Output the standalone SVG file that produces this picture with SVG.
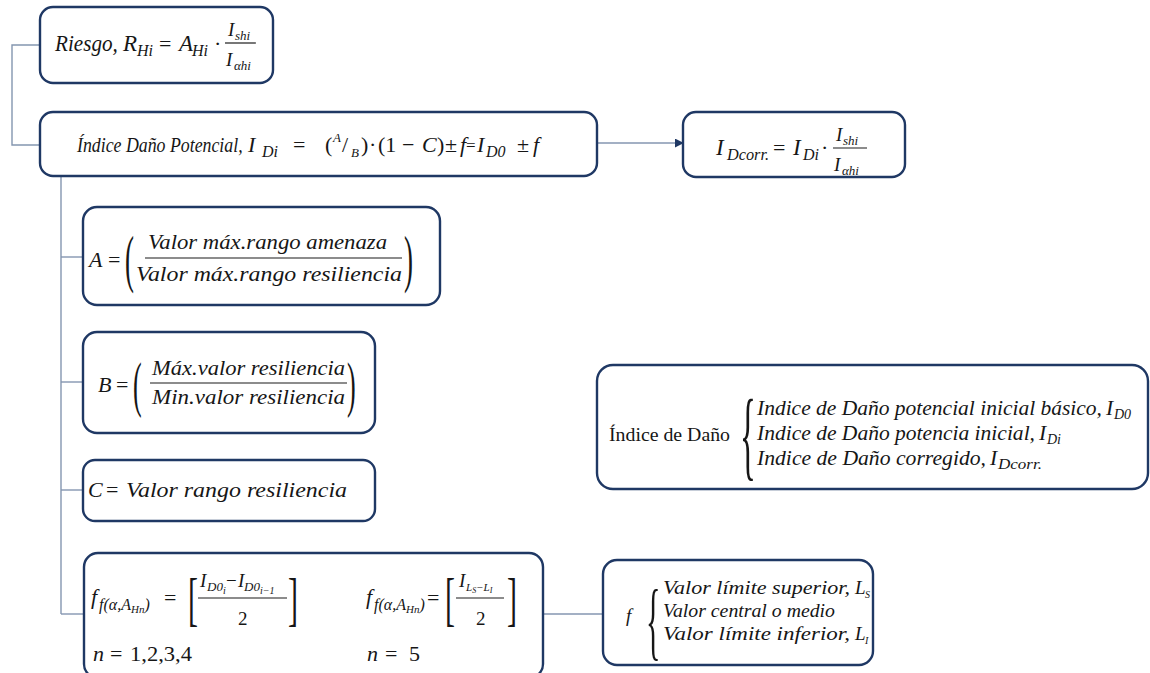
<svg xmlns="http://www.w3.org/2000/svg" width="1150" height="673" viewBox="0 0 1150 673">
  <style>
    .box { fill: #ffffff; stroke: #1f3864; stroke-width: 2.4; }
    .link { fill: none; stroke: #8496b0; stroke-width: 1.4; }
    .bar { stroke: #1b1b1b; stroke-width: 1.2; }
    text { font-family: "Liberation Serif", "DejaVu Serif", serif; fill: #161616; }
    .i { font-style: italic; }
    .m { font-size: 22px; }
    .n { font-size: 19px; }
    .s { font-size: 16px; }
    .ss { font-size: 13px; }
    .xs { font-size: 10px; }
    .big { font-size: 21.5px; }
  </style>
  <defs>
    <marker id="arrow" viewBox="0 0 10 10" refX="9" refY="5" markerWidth="9" markerHeight="9" orient="auto" markerUnits="userSpaceOnUse">
      <path d="M0,0 L10,5 L0,10 z" fill="#1f3864"/>
    </marker>
  </defs>

  <rect width="1150" height="673" fill="#ffffff"/>

  <!-- connectors -->
  <g id="connectors">
    <path class="link" d="M40,45 H12 V145 H40"/>
    <path class="link" d="M597,143 H683" marker-end="url(#arrow)"/>
    <path class="link" d="M61,176 V614"/>
    <path class="link" d="M61,257 H83"/>
    <path class="link" d="M61,382 H83"/>
    <path class="link" d="M61,490 H83"/>
    <path class="link" d="M61,614 H84"/>
    <path class="link" d="M543,614 H603"/>
  </g>

  <!-- risk -->
  <g id="riesgo">
    <rect class="box" x="40" y="7" width="233" height="76" rx="13"/>
    <text class="i m" transform="translate(55,51) scale(0.92,1)" style="font-size:23px">Riesgo,</text>
    <text class="i m" x="123" y="51" style="font-size:23px">R</text>
    <text class="i s" x="137" y="56">Hi</text>
    <text class="m" x="159" y="51">=</text>
    <text class="i m" x="179" y="51" style="font-size:23px">A</text>
    <text class="i s" x="192" y="56">Hi</text>
    <text class="m" x="214" y="51">·</text>
    <text class="i n" x="228" y="36">I</text>
    <text class="i ss" x="235" y="40">shi</text>
    <line class="bar" x1="225" y1="43" x2="256" y2="43"/>
    <text class="i n" x="226" y="66">I</text>
    <text class="i ss" x="234" y="70">αhi</text>
  </g>

  <!-- potential damage index -->
  <g id="indice-dano-potencial">
    <rect class="box" x="40" y="112" width="557" height="64" rx="13"/>
    <text class="i m" transform="translate(77,152) scale(0.81,1)">Índice Daño Potencial,</text>
    <text class="i m" x="248" y="152">I</text>
    <text class="i s" x="262" y="157">Di</text>
    <text class="m" x="293" y="152">=</text>
    <text class="m" x="325" y="152">(</text>
    <text class="i ss" x="333" y="142">A</text>
    <text class="m" x="342" y="152">/</text>
    <text class="i ss" x="351" y="157">B</text>
    <text class="m" x="361" y="152">)</text>
    <text class="m" x="369" y="152">·</text>
    <text class="m" x="378" y="152">(1</text>
    <text class="m" x="402" y="152">−</text>
    <text class="i m" x="422" y="152">C</text>
    <text class="m" x="437" y="152">)</text>
    <text class="m" x="445" y="152">±</text>
    <text class="i m" x="460" y="152">f</text>
    <text class="m" x="466" y="151" style="font-size:17px">=</text>
    <text class="i m" x="477" y="152">I</text>
    <text class="i s" x="486" y="157">D0</text>
    <text class="m" x="517" y="152">±</text>
    <text class="i m" x="533" y="152">f</text>
  </g>

  <!-- corrected index -->
  <g id="indice-corregido">
    <rect class="box" x="683" y="112" width="222" height="65" rx="13"/>
    <text class="i m" x="716" y="155" style="font-size:23px">I</text>
    <text class="i s" x="727" y="160" textLength="42" lengthAdjust="spacingAndGlyphs">Dcorr.</text>
    <text class="m" x="773" y="155">=</text>
    <text class="i m" x="793" y="155" style="font-size:23px">I</text>
    <text class="i s" x="803" y="160">Di</text>
    <text class="m" x="821" y="155">·</text>
    <text class="i n" x="836" y="141">I</text>
    <text class="i ss" x="843" y="145">shi</text>
    <line class="bar" x1="833" y1="148" x2="867" y2="148"/>
    <text class="i n" x="834" y="171">I</text>
    <text class="i ss" x="842" y="175">αhi</text>
  </g>

  <!-- term A -->
  <g id="termino-a">
    <rect class="box" x="83" y="207" width="357" height="98" rx="14"/>
    <text class="i m" x="89" y="267">A</text>
    <text class="m" x="108" y="267">=</text>
    <text class="m" transform="translate(125,280) scale(0.42,1)" style="font-size:64px">(</text>
    <text class="i m" x="148" y="249" textLength="239" lengthAdjust="spacingAndGlyphs">Valor máx.rango amenaza</text>
    <line class="bar" x1="145" y1="258" x2="402" y2="258"/>
    <text class="i m" x="136" y="281" textLength="266" lengthAdjust="spacingAndGlyphs">Valor máx.rango resiliencia</text>
    <text class="m" transform="translate(404,280) scale(0.42,1)" style="font-size:64px">)</text>
  </g>

  <!-- term B -->
  <g id="termino-b">
    <rect class="box" x="83" y="332" width="292" height="101" rx="14"/>
    <text class="i m" x="98" y="392">B</text>
    <text class="m" x="116" y="392">=</text>
    <text class="m" transform="translate(133,405) scale(0.42,1)" style="font-size:62px">(</text>
    <text class="i m" x="152" y="375" textLength="193" lengthAdjust="spacingAndGlyphs">Máx.valor resiliencia</text>
    <line class="bar" x1="150" y1="383" x2="347" y2="383"/>
    <text class="i m" x="152" y="404" textLength="193" lengthAdjust="spacingAndGlyphs">Min.valor resiliencia</text>
    <text class="m" transform="translate(347,405) scale(0.42,1)" style="font-size:62px">)</text>
  </g>

  <!-- term C -->
  <g id="termino-c">
    <rect class="box" x="83" y="460" width="292" height="61" rx="12"/>
    <text class="i m" x="88" y="497">C</text>
    <text class="m" x="106" y="497">=</text>
    <text class="i m" x="126" y="497" textLength="221" lengthAdjust="spacingAndGlyphs">Valor rango resiliencia</text>
  </g>

  <!-- term f -->
  <g id="termino-f">
    <rect class="box" x="84" y="553" width="459" height="125" rx="14"/>
    <text class="i m" x="91" y="604">f</text>
    <text class="i s" x="99" y="610">f(α,A<tspan style="font-size:11px" dy="3">Hn</tspan><tspan dy="-3">)</tspan></text>
    <text class="m" x="164" y="605">=</text>
    <text class="m" transform="translate(188,619) scale(0.5,1)" style="font-size:60px">[</text>
    <text class="i n" x="200" y="587">I</text>
    <text class="i ss" x="207" y="591">D0<tspan class="xs" dy="3">i</tspan></text>
    <text class="n" x="226" y="587">−</text>
    <text class="i n" x="238" y="587">I</text>
    <text class="i ss" x="244" y="591">D0<tspan class="xs" dy="3">i−1</tspan></text>
    <line class="bar" x1="198" y1="598" x2="287" y2="598"/>
    <text class="n" x="238" y="625">2</text>
    <text class="m" transform="translate(288,619) scale(0.5,1)" style="font-size:60px">]</text>
    <text class="i m" x="93" y="661">n</text>
    <text class="m" x="110" y="661">=</text>
    <text class="m" x="130" y="661" textLength="62" lengthAdjust="spacingAndGlyphs">1,2,3,4</text>

    <text class="i m" x="366" y="604">f</text>
    <text class="i s" x="374" y="610">f(α,A<tspan style="font-size:11px" dy="3">Hn</tspan><tspan dy="-3">)</tspan></text>
    <text class="m" x="427" y="605">=</text>
    <text class="m" transform="translate(445,619) scale(0.5,1)" style="font-size:60px">[</text>
    <text class="i n" x="459" y="587">I</text>
    <text class="i xs" x="466" y="591" style="font-size:11px">L<tspan dy="2" style="font-size:8px">S</tspan><tspan dy="-2">−L</tspan><tspan dy="2" style="font-size:8px">I</tspan></text>
    <line class="bar" x1="456" y1="598" x2="504" y2="598"/>
    <text class="n" x="476" y="625">2</text>
    <text class="m" transform="translate(507,619) scale(0.5,1)" style="font-size:60px">]</text>
    <text class="i m" x="367" y="661">n</text>
    <text class="m" x="385" y="661">=</text>
    <text class="m" x="409" y="661">5</text>
  </g>

  <!-- f values -->
  <g id="valores-f">
    <rect class="box" x="603" y="560" width="270" height="105" rx="14"/>
    <text class="i n" x="626" y="622">f</text>
    <text class="n" transform="translate(646,649) scale(0.35,1)" style="font-size:86px">{</text>
    <text class="i n" x="663" y="594" textLength="187" lengthAdjust="spacingAndGlyphs">Valor límite superior,</text>
    <text class="i n" x="855" y="594">L</text>
    <text class="i xs" x="865" y="598">S</text>
    <text class="i n" x="663" y="617" textLength="172" lengthAdjust="spacingAndGlyphs">Valor central o medio</text>
    <text class="i n" x="663" y="640" textLength="187" lengthAdjust="spacingAndGlyphs">Valor límite inferior,</text>
    <text class="i n" x="855" y="640">L</text>
    <text class="i xs" x="865" y="644">I</text>
  </g>

  <!-- damage index summary -->
  <g id="indice-de-dano">
    <rect class="box" x="597" y="365" width="551" height="124" rx="16"/>
    <text class="n" x="609" y="441" textLength="121" lengthAdjust="spacingAndGlyphs">Índice de Daño</text>
    <text class="n" transform="translate(740,468) scale(0.33,1)" style="font-size:100px">{</text>
    <text class="i big" x="757" y="415" textLength="345" lengthAdjust="spacingAndGlyphs">Indice de Daño potencial inicial básico,</text>
    <text class="i big" x="1106" y="415">I</text>
    <text class="i ss" x="1114" y="419" style="font-size:14px">D0</text>
    <text class="i big" x="757" y="440" textLength="278" lengthAdjust="spacingAndGlyphs">Indice de Daño potencia inicial,</text>
    <text class="i big" x="1039" y="440">I</text>
    <text class="i ss" x="1047" y="444" style="font-size:14px">Di</text>
    <text class="i big" x="757" y="465" textLength="229" lengthAdjust="spacingAndGlyphs">Indice de Daño corregido,</text>
    <text class="i big" x="990" y="465">I</text>
    <text class="i ss" x="998" y="469" textLength="44" lengthAdjust="spacingAndGlyphs" style="font-size:14px">Dcorr.</text>
  </g>
</svg>
